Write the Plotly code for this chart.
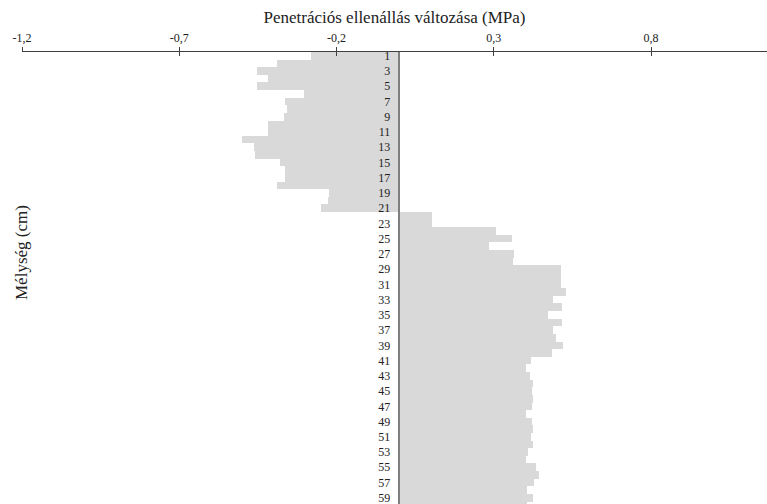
import plotly.graph_objects as go

# Depth (cm) and change of penetration resistance (MPa) at each depth
depth = list(range(1, 61))
change = [
    -0.282, -0.388, -0.452, -0.417, -0.452, -0.303, -0.364, -0.358, -0.367, -0.417,
    -0.417, -0.500, -0.462, -0.459, -0.380, -0.364, -0.364, -0.390, -0.224, -0.227,
    -0.250, 0.103, 0.103, 0.306, 0.359, 0.285, 0.364, 0.362, 0.514, 0.514,
    0.514, 0.529, 0.487, 0.518, 0.473, 0.518, 0.489, 0.497, 0.521, 0.484,
    0.418, 0.403, 0.415, 0.426, 0.421, 0.426, 0.421, 0.403, 0.423, 0.426,
    0.418, 0.424, 0.408, 0.403, 0.434, 0.445, 0.428, 0.405, 0.426, 0.405,
]

x_tick_vals = [-1.2, -0.7, -0.2, 0.3, 0.8]
x_tick_text = ["-1,2", "-0,7", "-0,2", "0,3", "0,8"]
y_tick_vals = list(range(1, 61, 2))

X_MIN, X_MAX = -1.2, 1.1688
Y_RANGE = [59.82, 0.5]
zero_pos = (0 - X_MIN) / (X_MAX - X_MIN)

serif = "Liberation Serif, Times New Roman, serif"
axis_col = "#404040"

fig = go.Figure()
fig.add_trace(go.Bar(
    x=change, y=depth, orientation="h", width=1.0,
    marker=dict(color="#d9d9d9", line=dict(width=0)),
    hoverinfo="x+y", showlegend=False,
))
# empty trace so the second (tick-only) x axis gets its own subplot
fig.add_trace(go.Scatter(x=[], y=[], xaxis="x2", yaxis="y", showlegend=False))

fig.update_layout(
    width=767, height=504,
    margin=dict(l=22, r=0, t=52, b=0),
    paper_bgcolor="white", plot_bgcolor="white",
    bargap=0,
    xaxis=dict(
        side="top", range=[X_MIN, X_MAX],
        tickmode="array", tickvals=x_tick_vals, ticktext=x_tick_text,
        ticks="outside", ticklen=4, tickwidth=1, tickcolor=axis_col,
        showline=True, linecolor=axis_col, linewidth=1,
        showgrid=False, zeroline=False,
        tickfont=dict(family=serif, size=12, color="#222"),
        title=dict(text="Penetrációs ellenállás változása (MPa)",
                   font=dict(family=serif, size=17, color="#222"), standoff=3),
    ),
    xaxis2=dict(
        overlaying="x", matches="x", side="top", anchor="y",
        range=[X_MIN, X_MAX],
        tickmode="array", tickvals=x_tick_vals,
        ticks="inside", ticklen=4, tickwidth=1, tickcolor=axis_col,
        showticklabels=False, showline=False, showgrid=False, zeroline=False,
    ),
    yaxis=dict(
        range=Y_RANGE, anchor="free", position=zero_pos, side="left",
        tickmode="array", tickvals=y_tick_vals,
        ticks="", showline=True, linecolor="#7f7f7f", linewidth=1.5,
        showgrid=False, zeroline=False,
        tickfont=dict(family=serif, size=12, color="#222"),
        ticklabelstandoff=6, ticklabeloverflow="allow",
    ),
    annotations=[dict(
        text="Mélység (cm)", textangle=-90,
        xref="paper", yref="paper", x=0, xshift=-1, y=(504 - 253) / 452,
        xanchor="center", yanchor="middle", showarrow=False,
        font=dict(family=serif, size=17, color="#222"),
    )],
)

fig.write_html("out.html")
